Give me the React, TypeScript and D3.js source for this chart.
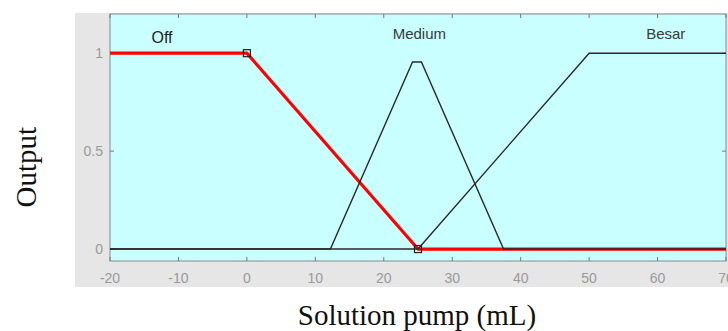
import React from "react";
import * as d3 from "d3";

const xTicks = [-20, -10, 0, 10, 20, 30, 40, 50, 60, 70];
const yTicks = [0, 0.5, 1];
const yTickLabels = ["0", "0.5", "1"];

const offX = [-20, 0, 25, 70];
const offY = [1, 1, 0, 0];
const mediumX = [-20, 12.2, 24.2, 25.5, 37.5, 70];
const mediumY = [0, 0, 0.955, 0.955, 0, 0];
const besarX = [-20, 25, 50, 70];
const besarY = [0, 0, 1, 1];

const mfNames = ["Off", "Medium", "Besar"];
const mfLabelX = [-12.4, 25.2, 61.2];
const markerX = [0, 25];
const markerY = [1, 0];

const W = 728;
const H = 331;
const left = 110;
const right = 726;
const top = 14;
const bottom = 261;

export default function App() {
  const x = d3.scaleLinear().domain([-20, 70]).range([left, right]);
  const y = d3.scaleLinear().domain([-0.061, 1.2]).range([bottom, top]);
  const line = d3
    .line<[number, number]>()
    .x((d) => x(d[0]))
    .y((d) => y(d[1]));
  const pts = (xs: number[], ys: number[]) =>
    xs.map((v, i) => [v, ys[i]] as [number, number]);

  return (
    <svg
      width={W}
      height={H}
      style={{ position: "absolute", left: 0, top: 0 }}
      fontFamily="Liberation Sans, Arial, sans-serif"
    >
      <rect x={0} y={0} width={W} height={H} fill="#ffffff" />
      <rect x={75} y={13} width={W - 75} height={274} fill="#e6e6e6" />
      <rect
        x={left}
        y={top}
        width={right - left}
        height={bottom - top}
        fill="#c9ffff"
        stroke="#8a8a8a"
        strokeWidth={1}
      />
      {xTicks.map((t) => (
        <g key={"xt" + t}>
          <line x1={x(t)} x2={x(t)} y1={bottom} y2={bottom - 4} stroke="#777" />
          <line x1={x(t)} x2={x(t)} y1={top} y2={top + 4} stroke="#777" />
          <text
            x={x(t)}
            y={283}
            textAnchor="middle"
            fontSize={14}
            fill="#9a9a9a"
          >
            {t}
          </text>
        </g>
      ))}
      {yTicks.map((t, i) => (
        <g key={"yt" + t}>
          <line x1={left} x2={left + 4} y1={y(t)} y2={y(t)} stroke="#777" />
          <line x1={right} x2={right - 4} y1={y(t)} y2={y(t)} stroke="#777" />
          <text
            x={103}
            y={y(t) + 5}
            textAnchor="end"
            fontSize={14}
            fill="#9a9a9a"
          >
            {yTickLabels[i]}
          </text>
        </g>
      ))}
      <path
        d={line(pts(offX, offY)) || ""}
        fill="none"
        stroke="#ff0000"
        strokeWidth={3.2}
        strokeLinejoin="round"
      />
      <path
        d={line(pts(mediumX, mediumY)) || ""}
        fill="none"
        stroke="#2a2a2a"
        strokeWidth={1.4}
      />
      <path
        d={line(pts(besarX, besarY)) || ""}
        fill="none"
        stroke="#2a2a2a"
        strokeWidth={1.4}
      />
      {markerX.map((m, i) => (
        <rect
          key={"mk" + i}
          x={x(m) - 3.5}
          y={y(markerY[i]) - 3.5}
          width={7}
          height={7}
          fill="none"
          stroke="#222"
          strokeWidth={1.2}
        />
      ))}
      {mfNames.map((n, i) => (
        <text
          key={n}
          x={x(mfLabelX[i])}
          y={i === 0 ? 43 : 39}
          textAnchor="middle"
          fontSize={i === 0 ? 16 : 15}
          fill={i === 0 ? "#222" : "#3a3a3a"}
        >
          {n}
        </text>
      ))}
      <text
        x={417}
        y={325}
        textAnchor="middle"
        fontSize={29}
        fontFamily="Liberation Serif, Times New Roman, serif"
        fill="#111"
      >
        Solution pump (mL)
      </text>
      <text
        transform={`translate(36,${y(0.5) + 16}) rotate(-90)`}
        textAnchor="middle"
        fontSize={29}
        fontFamily="Liberation Serif, Times New Roman, serif"
        fill="#111"
      >
        Output
      </text>
    </svg>
  );
}
